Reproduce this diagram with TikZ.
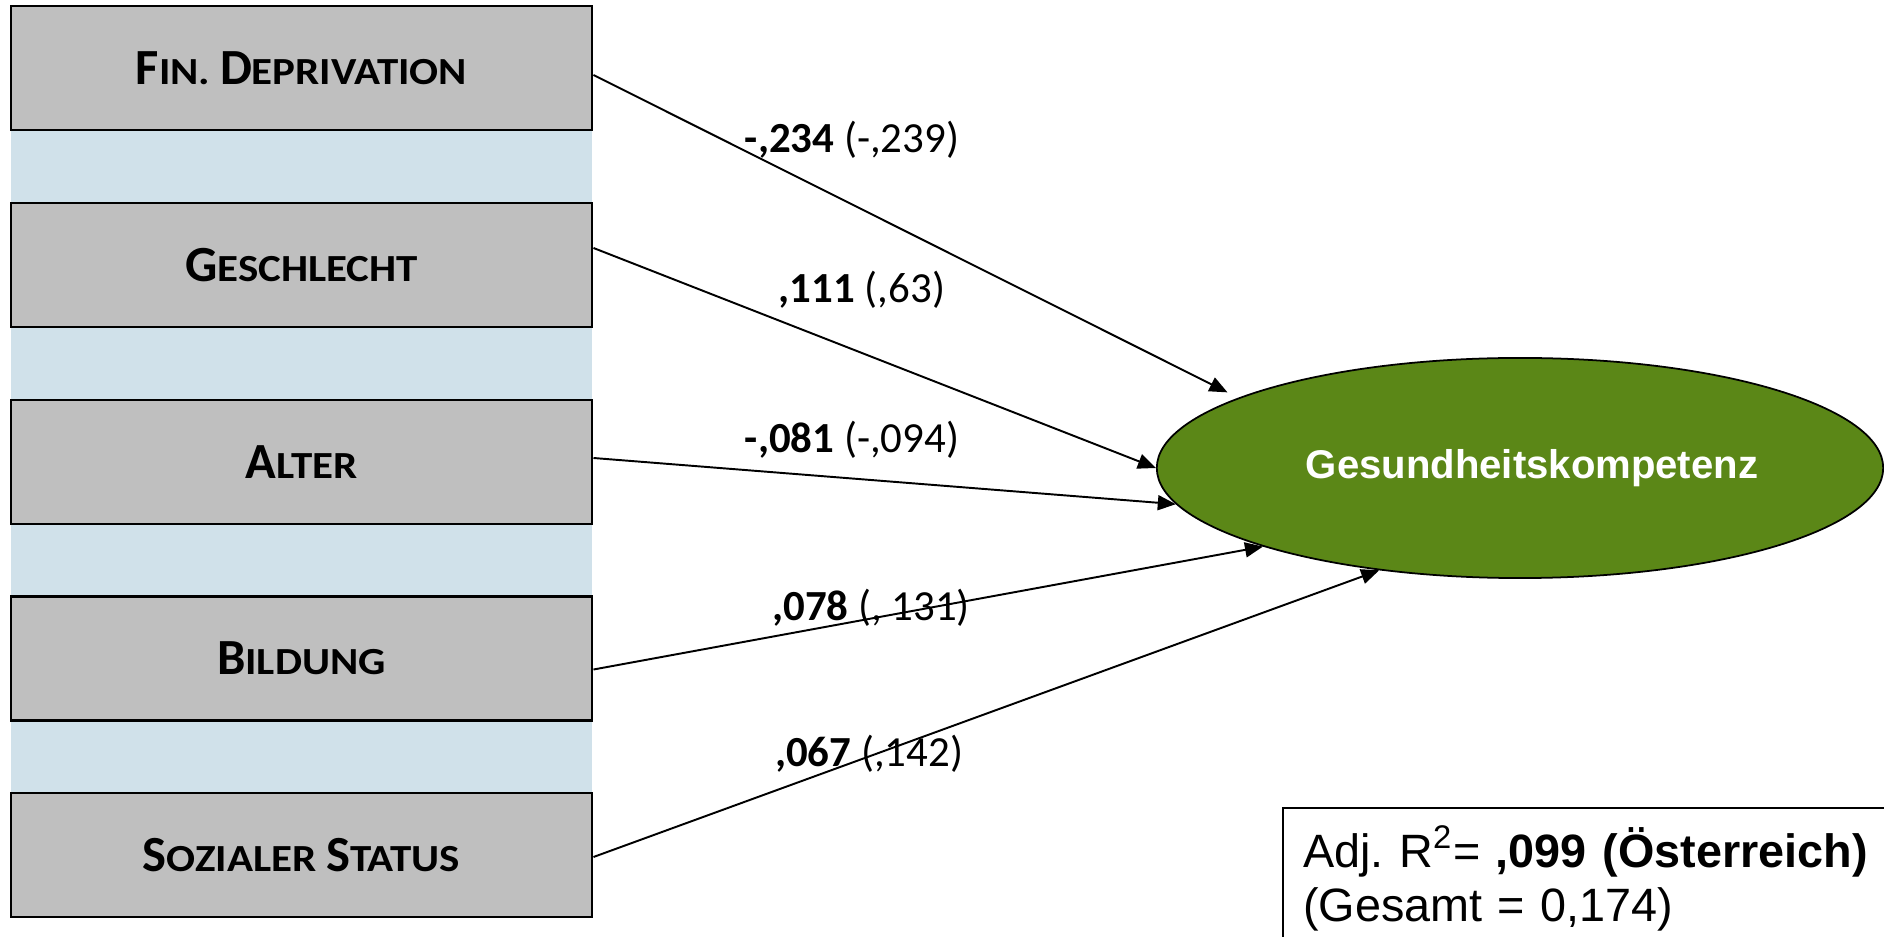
\documentclass[tikz,border=0pt]{standalone}
\usepackage{fontspec}
\setmainfont{Carlito}
\newfontfamily\arialfont{Liberation Sans}
\newfontfamily\kapfont[FakeStretch=1.12]{Carlito}
\usepackage{tikz}
\usetikzlibrary{shapes.geometric,arrows.meta}
\definecolor{boxgrey}{HTML}{BFBFBF}
\definecolor{bandblue}{HTML}{D0E1EA}
\definecolor{gkgreen}{HTML}{5B8717}
\newcommand{\kap}[2]{{\fontsize{14.4}{17}\selectfont #1}{\kapfont\fontsize{10.9}{13}\selectfont #2}}

\begin{document}
\begin{tikzpicture}[
  x=0.01cm, y=-0.01cm,
  every node/.style={font=\fontsize{12.2}{14}\selectfont},
  box/.style={draw, line width=0.75pt, fill=boxgrey, minimum width=5.81cm, minimum height=1.24cm, inner sep=0pt, font=\bfseries},
  coef/.style={anchor=base},
  arrow/.style={-{Triangle[length=0.18cm,width=0.15cm]}, line width=0.55pt}
]
\useasboundingbox (0,0) rectangle (1884,937);
\clip (0,0) rectangle (1884,937);

\fill[bandblue] (11,130) rectangle (592,793);

\node[box] (fin) at (301.5,68) {\kap{F}{IN. }\kap{D}{EPRIVATION}};
\node[box] (sex) at (301.5,265) {\kap{G}{ESCHLECHT}};
\node[box] (age) at (301.5,462) {\kap{A}{LTER}};
\node[box] (edu) at (301.5,658.5) {\kap{B}{ILDUNG}};
\node[box] (ses) at (301.5,855) {\kap{S}{OZIALER }\kap{S}{TATUS}};

\node[ellipse, draw, line width=0.5pt, fill=gkgreen, minimum width=7.26cm, minimum height=2.2cm, text=white, font=\arialfont\bfseries\fontsize{11.4}{14}\selectfont] (gk) at (1520,468) {\hspace*{0.24cm}Gesundheitskompetenz};

\node[coef] (c1) at (852,153) {\textbf{-,234} (-,239)};
\node[coef] (c2) at (862,303) {\textbf{,111} (,63)};
\node[coef] (c3) at (852,453) {\textbf{-,081} (-,094)};
\node[coef] (c4) at (871,620) {\textbf{,078} (, 131)};
\node[coef] (c5) at (869,767) {\textbf{,067} (,142)};

\draw[arrow, shorten >=0.12cm] ([yshift=-0.07cm]fin.east) -- (gk.166);
\draw[arrow] ([yshift=0.17cm]sex.east) -- (gk.180);
\draw[arrow] ([yshift=0.04cm]age.east) -- (gk.186);
\draw[arrow] ([yshift=-0.11cm]edu.east) -- (gk.197);
\draw[arrow] ([yshift=-0.02cm]ses.east) -- (gk.216);

\node[draw, line width=0.6pt, anchor=north west, text width=6.6cm, align=left, inner xsep=0.2cm, inner ysep=0.18cm, font=\arialfont\fontsize{13.3}{15.3}\selectfont] (rsq) at (1282,807) {Adj.\ R\textsuperscript{2}= \textbf{,099 (Österreich)}\\(Gesamt = 0,174)};

\end{tikzpicture}
\end{document}
